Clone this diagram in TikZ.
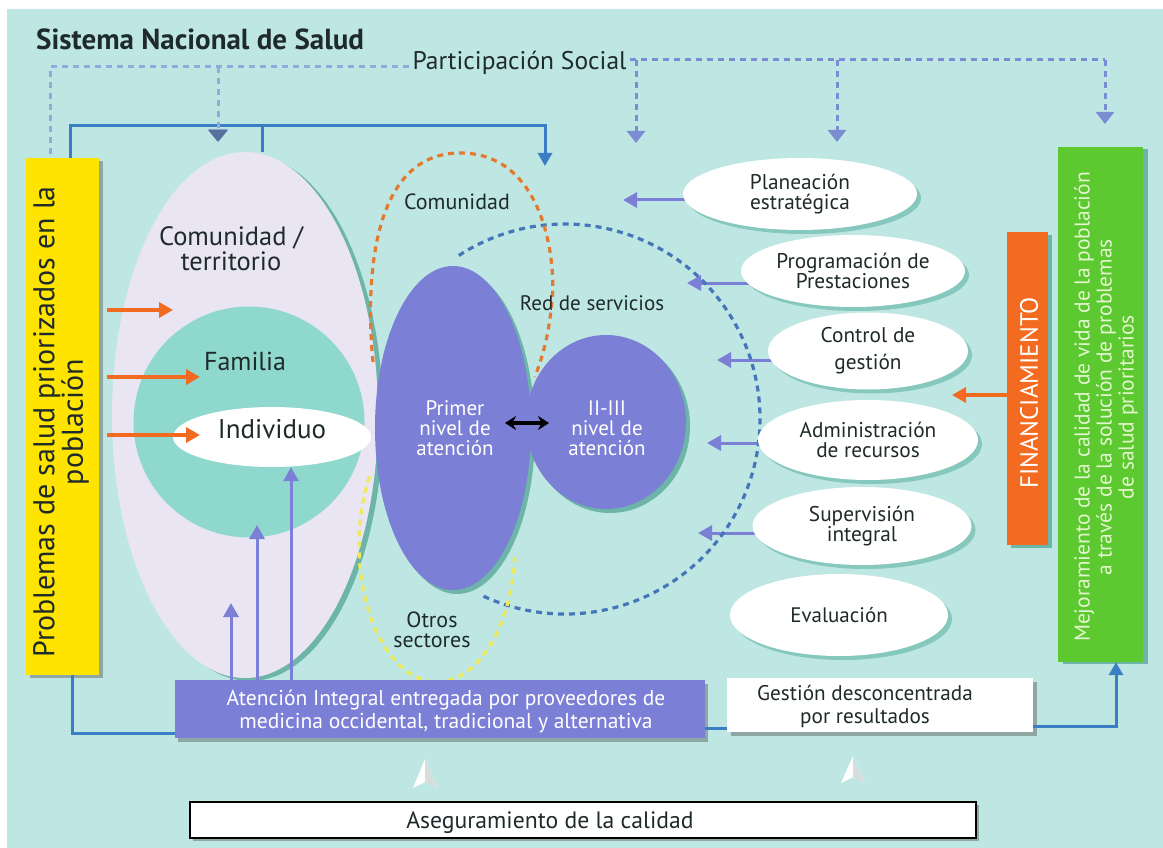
\documentclass[tikz,border=0pt]{standalone}
\usepackage{fontspec}
\setmainfont{PT Sans}
\usetikzlibrary{arrows.meta,shapes.geometric,calc,shadows}
\pgfdeclarelayer{back}
\pgfsetlayers{back,main}
\definecolor{bg}{HTML}{BEE7E3}
\definecolor{lav}{HTML}{E9E5F2}
\definecolor{tealc}{HTML}{8ED8CE}
\definecolor{tealsh}{HTML}{86C8BD}
\definecolor{tealdk}{HTML}{6CB5A8}
\definecolor{purp}{HTML}{7B7FD6}
\definecolor{framec}{HTML}{3B7EC4}
\definecolor{dashc}{HTML}{7C8CD2}
\definecolor{dashl}{HTML}{92AADA}
\definecolor{dashdk}{HTML}{55729F}
\definecolor{orgc}{HTML}{F26B21}
\definecolor{orgd}{HTML}{E47A30}
\definecolor{ylw}{HTML}{FFE400}
\definecolor{ylwd}{HTML}{EEEA5C}
\definecolor{grn}{HTML}{5CC930}
\definecolor{grntxt}{HTML}{E4F6CF}
\definecolor{redc}{HTML}{4676BA}
\definecolor{txt}{HTML}{1F2A2A}
\definecolor{shgrey}{HTML}{8FA7A2}
\definecolor{arrgrey}{HTML}{D6DEDC}
\begin{document}
\begin{tikzpicture}[x=1pt,y=-1pt,
  fs/.style 2 args={font=\fontsize{#1}{#2}\selectfont},
  psdash/.style={draw=dashc, line width=3pt, dash pattern=on 6pt off 5pt},
  psarrow/.style={psdash, -{Triangle[width=18pt,length=12pt]}},
  frameline/.style={draw=framec, line width=3pt},
  framearrow/.style={frameline, -{Triangle[width=14pt,length=13pt]}},
  oarrow/.style={draw=orgc, line width=3.5pt, -{Triangle[width=15pt,length=14pt]}},
  parrow/.style={draw=purp, line width=3pt, -{Triangle[width=15pt,length=14pt]}},
  wellipse/.style={ellipse, fill=white, inner sep=0, align=center, text=txt,
    drop shadow={shadow xshift=4pt, shadow yshift=-4pt, fill=tealsh, opacity=1}},
  loopdash/.style={line width=3.2pt, dash pattern=on 6pt off 5pt},
  lbl/.style={text=txt, align=center},
  blob/.style={ellipse, fill=purp, inner sep=0},
  wlbl/.style={text=white, align=center},
]
\useasboundingbox (0,0) rectangle (1163,848);
\begin{pgfonlayer}{back}
\fill[white] (0,0) rectangle (1163,848);
\fill[bg] (7,9) rectangle (1163,848);
\end{pgfonlayer}

% titles
\node[anchor=base west, inner sep=0, text=txt, font=\fontsize{29}{34}\selectfont\bfseries] (title) at (36,50) {Sistema Nacional de Salud};
\node[anchor=base west, text=txt, fs={25.5}{30}] (ps) at (409,70) {Participación Social};

% left yellow box
\node[fill=ylw, minimum width=73, minimum height=517, inner sep=0,
  drop shadow={shadow xshift=4pt, shadow yshift=-3pt, fill=shgrey, opacity=1}] (yel) at (62.5,416.5) {};
\node[rotate=90, lbl, fs={30}{25}] (yeltxt) at (61,422) {Problemas de salud priorizados en la\\población};

% right green box
\node[fill=grn, minimum width=85, minimum height=515, inner sep=0,
  drop shadow={shadow xshift=5pt, shadow yshift=-2pt, fill=tealdk, opacity=1}] (grn) at (1100.5,404.5) {};
\node[rotate=90, align=center, text=grntxt, fs={21.5}{22}] (grntext) at (1106,407) {Mejoramiento de la calidad de vida de la población\\a través de la solución de problemas\\de salud prioritarios};

% financiamiento
\node[fill=orgc, minimum width=41, minimum height=313, inner sep=0,
  drop shadow={shadow xshift=4pt, shadow yshift=-3pt, fill=tealdk, opacity=1}] (fin) at (1027.5,388.5) {};
\node[rotate=90, text=white, fs={25}{28}] (fintxt) at (1029,393) {FINANCIAMIENTO};

% community ellipse, family, individual
\node[ellipse, fill=lav, minimum width=266, minimum height=526, inner sep=0,
  drop shadow={shadow xshift=5pt, shadow yshift=-3pt, fill=tealdk, opacity=1}] (com) at (245,415) {};
\node[circle, fill=tealc, minimum size=231, inner sep=0] (fam) at (249,422) {};
\node[ellipse, fill=white, minimum width=198, minimum height=60, inner sep=0] (ind) at (272,437) {};
\node[lbl, fs={26.5}{25}] (comtxt) at (231,249) {Comunidad /\\territorio};
\node[anchor=base, text=txt, fs={26}{26}] (famtxt) at (245,370) {Familia};
\node[anchor=base, text=txt, fs={27}{27}] (indtxt) at (272,438) {Individuo};

% orange arrows from problems
\draw[oarrow] ($(yel.east |- 0,310)+(8,0)$) -- (173,310);
\draw[oarrow] ($(yel.east |- 0,377)+(8,0)$) -- (200,377);
\draw[oarrow] ($(yel.east |- 0,435)+(8,0)$) -- (200,435);

% red de servicios dashed circle
\draw[redc, loopdash] (458.8,255.5) arc[start angle=237, end angle=476, radius=195];
% comunidad dashed loop
\draw[orgd, loopdash] (373,362) .. controls (366,290) and (368,153) .. (460,153)
  .. controls (548,153) and (556,270) .. (552,300)
  .. controls (549,335) and (543,355) .. (535,377);
% otros sectores dashed loop
\draw[ylwd, loopdash] (369.5,476.5) arc[start angle=210, end angle=5, x radius=78, y radius=137];

% service blobs
\fill[tealdk] (457,432) ellipse [x radius=78, y radius=162];
\fill[tealdk] (610,426) ellipse [x radius=80, y radius=87];
\node[blob, minimum width=156, minimum height=324] (prim) at (453,428) {};
\node[blob, minimum width=160, minimum height=174] (sec) at (606,422) {};
\node[wlbl, fs={21}{20}] (primtxt) at (455,428) {Primer\\nivel de\\atención};
\node[wlbl, fs={21}{20}] (sectxt) at (607,428) {II-III\\nivel de\\atención};
\coordinate (da) at (505,423);
\coordinate (db) at (549,423);
\draw[line width=3.5pt, {Stealth[length=11pt,width=14pt]}-{Stealth[length=11pt,width=14pt]}] (da) -- (db);

\node[anchor=base, text=txt, fs={22}{22}] (comlbl) at (457,210) {Comunidad};
\node[anchor=base, text=txt, fs={21}{21}] (redlbl) at (592,310) {Red de servicios};
\node[lbl, fs={22}{20}] (otros) at (432,630) {Otros\\sectores};

% management ellipses
\node[wellipse, minimum width=234, minimum height=72, fs={21.3}{20}] (plan) at (800,194) {Planeación\\estratégica};
\node[wellipse, minimum width=224, minimum height=72, fs={21.3}{20}] (prog) at (853,271) {Programación de\\Prestaciones};
\node[wellipse, minimum width=200, minimum height=77, fs={21.3}{27}] (ctrl) at (868,351) {Control de\\gestión};
\node[wellipse, minimum width=220, minimum height=80, fs={21.3}{20}] (adm) at (868,440) {Administración\\de recursos};
\node[wellipse, minimum width=219, minimum height=78, fs={21.3}{19}] (sup) at (862,526) {Supervisión\\integral};
\node[wellipse, minimum width=218, minimum height=82, fs={21}{21}] (eva) at (839,615) {Evaluación};

\begin{pgfonlayer}{back}
\draw[parrow] (plan.center |- 0,200) -- (623,200);
\draw[parrow] (prog.center |- 0,283) -- (687,283);
\draw[parrow] (ctrl.center |- 0,360) -- (717,360);
\draw[parrow] (adm.center |- 0,443) -- (707,443);
\draw[parrow] (sup.center |- 0,533) -- (698,533);
\end{pgfonlayer}
\draw[oarrow] (fin.west |- 0,395) -- (952,395);

% bottom boxes
\node[fill=purp, minimum width=530, minimum height=58, inner sep=0,
  drop shadow={shadow xshift=3pt, shadow yshift=-4pt, fill=shgrey, opacity=1}] (aten) at (440,709) {};
\node[wlbl, fs={21.5}{23}] (atentxt) at (446,711) {Atención Integral entregada por proveedores de\\medicina occidental, tradicional y alternativa};
\node[fill=white, minimum width=306, minimum height=54, inner sep=0,
  drop shadow={shadow xshift=4pt, shadow yshift=-4pt, fill=shgrey, opacity=1}] (gest) at (880,705) {};
\node[lbl, fs={21.2}{23}] (gesttxt) at (865,706) {Gestión desconcentrada\\por resultados};
\node[draw=black, line width=2pt, fill=white, minimum width=786, minimum height=36, inner sep=0,
  drop shadow={shadow xshift=3pt, shadow yshift=-3pt, fill=shgrey, opacity=1}] (aseg) at (583,820) {};
\node[anchor=base, text=txt, fs={23.7}{24}] (asegtxt) at (550,828) {Aseguramiento de la calidad};

% purple arrows up
\draw[parrow] (aten.north -| 231,0) -- (231,603);
\draw[parrow] (aten.north -| 257,0) -- (257,525);
\draw[parrow] (aten.north -| 291,0) -- (ind.south -| 291,0);

% white up arrowheads
\fill[white] (425,759) -- (437,788) -- (425,782) -- (413,788) -- cycle;
\fill[arrgrey] (425,759) -- (437,788) -- (425,782) -- cycle;
\fill[white] (853,756) -- (865,783) -- (853,777) -- (841,783) -- cycle;
\fill[arrgrey] (853,756) -- (865,783) -- (853,777) -- cycle;

% blue frame
\coordinate (tr) at (545,126);
\draw[framearrow] (yel.north -| 70,0) |- (tr) -- (545,166);
\draw[frameline] (262,126) -- (com.north -| 262,0);
\draw[frameline] (yel.south -| 72,0) |- (aten.west |- 0,733);
\draw[frameline] (aten.east |- 0,728) -- (gest.west |- 0,728);
\draw[framearrow] (gest.east |- 0,726) -| (grn.south -| 1116,0);

% participacion social dashed
\coordinate (psl) at (50,67);
\draw[psdash, dashl] (ps.west |- 0,67) -- (psl) -- (yel.north -| psl);
\draw[psarrow, dashl] (218,67) -- (218,141);
\fill[dashdk] (208,130) -- (228,130) -- (218,142) -- cycle;
\draw[psdash] (ps.east |- 0,60) -- (1105,60);
\draw[psarrow] (636,60) -- (636,143);
\draw[psarrow] (837,60) -- (837,142);
\draw[psarrow] (1105,60) -- (1105,124);
\end{tikzpicture}
\end{document}
